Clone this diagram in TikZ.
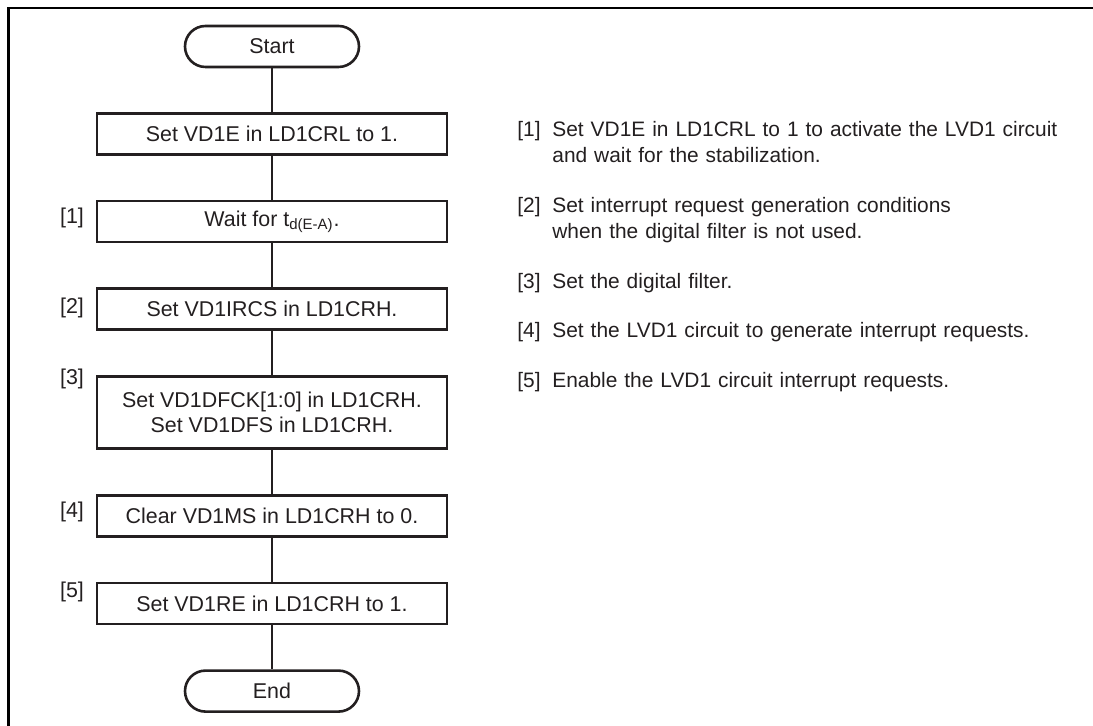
\documentclass[tikz,border=0pt]{standalone}
\usepackage{fontspec}
\setmainfont{Liberation Sans}
\usepackage{tikz}
\usetikzlibrary{positioning, calc}
\definecolor{inkblack}{RGB}{35,31,32}
\newcommand{\flowfont}{\fontsize{10.7}{12.5}\selectfont}
\newcommand{\notefont}{\fontsize{10.45}{13}\selectfont}
\tikzset{
  stepbox/.style={rectangle, draw=inkblack, text=inkblack,
    minimum width=175pt, minimum height=20.5pt, align=center,
    font=\flowfont, inner sep=0pt, line width=1.3pt},
  termbox/.style={rectangle, draw=inkblack, text=inkblack,
    minimum width=87pt, minimum height=20.5pt, rounded corners=10.25pt,
    font=\flowfont, inner sep=0pt, line width=1.3pt},
  steplabel/.style={anchor=base west, inner sep=0pt, font=\flowfont, text=inkblack},
  notelabel/.style={anchor=base west, inner sep=0pt, font=\notefont, text=inkblack},
  notetext/.style={anchor=base west, inner sep=0pt, font=\notefont, text=inkblack,
    text width=270pt, align=left},
  flow/.style={line width=0.6pt, color=inkblack},
  frame/.style={line width=1.1pt, color=black}
}

\begin{document}
\begin{tikzpicture}[x=0.5pt, y=-0.5pt]
  \useasboundingbox (0,0) rectangle (1093,726);

  % Outer frame (only top and left edges show)
  \draw[frame] (8.5,740) |- (1110,8);

  % Flow chart
  \node[termbox] (start) at (272,46.5) {Start};
  \node[stepbox, below=22pt of start] (setvd1e) {Set VD1E in LD1CRL to 1.};
  \node[stepbox, below=22pt of setvd1e] (wait) {Wait for t\textsubscript{d(E-A)}.};
  \node[stepbox, below=22pt of wait] (setircs) {Set VD1IRCS in LD1CRH.};
  \node[stepbox, below=22pt of setircs, minimum height=36.2pt] (setdf)
    {Set VD1DFCK[1:0] in LD1CRH.\\Set VD1DFS in LD1CRH.};
  \node[stepbox, below=22pt of setdf] (clearms) {Clear VD1MS in LD1CRH to 0.};
  \node[stepbox, below=22pt of clearms] (setre) {Set VD1RE in LD1CRH to 1.};
  \node[termbox, below=22pt of setre] (end) {End};

  \draw[flow] (start) -- (setvd1e);
  \draw[flow] (setvd1e) -- (wait);
  \draw[flow] (wait) -- (setircs);
  \draw[flow] (setircs) -- (setdf);
  \draw[flow] (setdf) -- (clearms);
  \draw[flow] (clearms) -- (setre);
  \draw[flow] (setre) -- (end);

  % Step numbers
  \node[steplabel] (lab1) at ($(wait.north west)+(-36,24)$) {[1]};
  \node[steplabel] (lab2) at ($(setircs.north west)+(-36,26)$) {[2]};
  \node[steplabel] (lab3) at ($(setdf.north west)+(-36,9)$) {[3]};
  \node[steplabel] (lab4) at ($(clearms.north west)+(-36,23)$) {[4]};
  \node[steplabel] (lab5) at ($(setre.north west)+(-36,16)$) {[5]};

  % Notes
  \node[notelabel] (num1) at (517,137) {[1]};
  \node[notetext] (note1) at (552,137)
    {Set VD1E in LD1CRL to 1 to activate the LVD1 circuit\\and wait for the stabilization.};
  \node[notelabel] (num2) at (517,213) {[2]};
  \node[notetext] (note2) at (552,213)
    {Set interrupt request generation conditions\\when the digital filter is not used.};
  \node[notelabel] (num3) at (517,289) {[3]};
  \node[notetext] (note3) at (552,289) {Set the digital filter.};
  \node[notelabel] (num4) at (517,338) {[4]};
  \node[notetext] (note4) at (552,338) {Set the LVD1 circuit to generate interrupt requests.};
  \node[notelabel] (num5) at (517,388) {[5]};
  \node[notetext] (note5) at (552,388) {Enable the LVD1 circuit interrupt requests.};
\end{tikzpicture}
\end{document}
